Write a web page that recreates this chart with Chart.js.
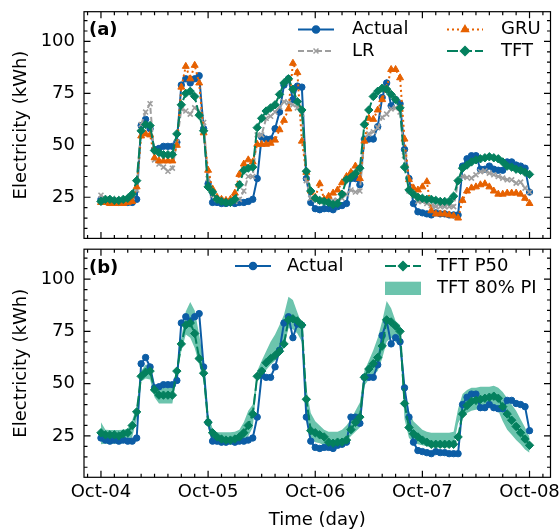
<!DOCTYPE html>
<html lang="en">
<head>
<meta charset="utf-8">
<title>Electricity forecasts</title>
<script src="https://cdnjs.cloudflare.com/ajax/libs/Chart.js/4.4.1/chart.umd.min.js"></script>
<style>
  body { margin: 0; background: #fff; }
  #wrap { position: relative; width: 560px; height: 532px; }
  canvas { position: absolute; left: 0; }
  #top { top: 0; }
  #bottom { top: 244px; }
</style>
</head>
<body>
<div id="wrap">
  <canvas id="top" width="560" height="244"></canvas>
  <canvas id="bottom" width="560" height="288"></canvas>
</div>
<script>
// hourly values, Oct-04 00:00 to Oct-08 00:00 (97 points)
const actual = [24, 23, 22.5, 23, 22.5, 23, 22.5, 22.5, 24,
  59.5, 62.5, 58, 48, 48.5, 49.5, 49.5, 49.5, 51.5,
  79, 82, 80, 82, 83.5, 58, 31.5,
  22.5, 22.5, 22, 22, 22.5, 22, 22.5, 22.5, 23,
  24, 34, 54, 53, 53, 58, 66, 79, 82, 72, 78.5, 78,
  34, 22.5, 19.5, 19, 19.5, 19.5, 19, 20.5, 21, 22,
  34, 34, 31, 53, 53, 53, 59, 73, 80, 69, 72, 70,
  48, 34, 22, 18, 17.5, 17, 16.5, 17.5, 17, 17, 16.5, 16.5, 16.5,
  40, 43.5, 45, 45, 38.5, 38.5, 40, 38.5, 38, 38, 42, 42, 40.5, 40, 39, 27.5];

const lr = [26, 24, 23.5, 23.5, 23, 23, 24, 25, 28.5,
  60, 66, 70, 43, 41, 39.5, 37.5, 39, 51.5,
  67.5, 66.5, 65, 68, 66.5, 61, 34,
  26, 24, 23.5, 23, 23, 23, 24, 28, 35,
  35, 55, 55, 63, 64, 66, 68.5, 71, 70.5, 69.5, 68, 65,
  33, 24.5, 24, 23, 23.5, 23.5, 23.5, 23.5, 24.5, 26.5,
  28.5, 27.5, 28, 53, 55.5, 56.5, 58.5, 63.5, 65, 67.5, 68, 66,
  45, 28, 26, 23, 23, 22, 21, 20.5, 20.5, 20.5, 20.5, 20.5, 32.5,
  35, 34.5, 34.2, 35.8, 37.3, 37.7, 36.6, 35.8, 35, 34.2, 33.4, 33.4, 31.8, 32.3, 29.4, 27.5];

const gru = [22.5, 22.5, 22, 22, 22, 22, 22.5, 23, 30,
  54.5, 55.5, 55, 44, 42.5, 42.5, 42.5, 42.5, 50,
  78, 88, 82, 88.5, 80, 56, 38,
  29, 25, 24, 23.5, 24, 27, 36, 41, 43,
  42, 50.5, 50.5, 50.5, 51, 52.5, 57.5, 62, 67.5, 89.5, 85, 52,
  37, 28, 25, 31.5, 24, 25.5, 27, 28.5, 32, 35,
  37, 40, 34, 52, 63, 62.5, 67, 72, 77.5, 86.5, 86.5, 82.5,
  53, 33.5, 29.5, 28.5, 30, 32.5, 18.5, 17, 17, 17, 16.5, 16, 15,
  23.5, 28, 29.5, 30, 31, 31.5, 30, 28, 26.5, 26.5, 27, 27, 27, 26.5, 24.5, 22];

const tft = [23, 24, 24, 23.5, 23.5, 24, 24.5, 26.5, 33,
  57, 60, 59.5, 47.5, 46.5, 45.5, 45.5, 45.5, 55.5,
  69.5, 75, 76, 73.5, 64.5, 57, 30,
  27.5, 24, 23, 22.5, 22.5, 24, 31, 38, 39,
  39.5, 58.5, 63, 66.5, 68, 69.5, 74.5, 80, 82, 77, 71, 67,
  37.5, 28, 24.5, 23.5, 23, 22.5, 21.5, 22, 26.5, 33.5,
  34.5, 36.5, 39, 60, 67, 73.5, 76, 77.5, 77, 74.5, 72, 68,
  39.5, 28.5, 26.5, 25, 24.5, 24, 24, 23.5, 23, 23, 23, 25.5, 33,
  39, 40.5, 42, 43, 43.5, 44, 44.5, 44, 43.5, 42, 40, 39.5, 38.5, 38, 37, 36];

const tftP50 = [26.5, 25.5, 25.5, 25.5, 25, 26, 26.5, 30, 36.5,
  53.5, 55.5, 56, 47, 44.5, 44.5, 44.5, 44.5, 56,
  69, 78, 79, 74, 62, 55, 31.5,
  26.5, 24.5, 23.5, 23, 23, 23.5, 24.5, 26.5, 30,
  35.5, 53.5, 56, 60, 62, 63.5, 65.5, 69, 80.5, 81, 80, 78,
  42.5, 27.5, 26.5, 25.5, 24.5, 22, 21.5, 22, 22, 23,
  28, 31.5, 34, 53, 57, 59.5, 62.5, 68, 80.5, 79.5, 77.5, 75,
  40.5, 29, 26, 24.5, 23, 22, 21, 21, 21, 21, 21, 21, 24.5,
  35.5, 39.5, 41.5, 42, 42.5, 43, 43.5, 44, 43, 39, 35.5, 32.5, 29.5, 26.5, 23.5, 20.5];

const tftHigh = [31.5, 28, 27.8, 27.8, 27.8, 28, 28.5, 32.5, 39,
  56, 59, 59, 49.5, 48, 48, 48, 48, 57.5,
  72, 84.5, 89, 85, 73.5, 61, 35.5,
  28.5, 26.7, 26.7, 26.7, 26.7, 27, 28, 31.5, 37,
  40, 56, 61, 65.5, 70, 73.5, 78, 83, 91.5, 90, 84, 78.5,
  48, 36, 32, 30, 28, 27, 27, 27, 28, 30,
  33, 37, 41, 56, 61, 66, 72, 80, 89.5, 86, 80, 78,
  48, 37, 32, 30, 28, 27, 26.5, 26.5, 26.5, 26.5, 26.5, 27, 38,
  45, 47, 48, 48, 48.5, 48.5, 48.5, 49, 48, 46, 43, 40, 37, 33, 29, 24.5];

const tftLow = [21, 21.2, 21.2, 21.2, 21.2, 21.5, 22, 24.5, 33,
  51, 52.5, 52, 43.5, 40.5, 40.5, 40.5, 40.5, 54,
  65.5, 73.5, 72, 67, 59, 51, 28.5,
  23, 21, 21, 21, 21, 21, 21.5, 22.5, 25,
  29, 51, 53, 56.5, 59, 61, 64, 67, 76.5, 76, 74, 70,
  35.5, 24, 22, 21.5, 20.5, 20, 20, 20, 20.5, 22.5,
  25, 27, 29, 49, 52, 54, 56, 62, 70, 72, 70, 68,
  33, 24, 22, 21, 20.5, 20, 19.5, 19.5, 19.5, 19.5, 19.5, 20.5, 31,
  35, 36, 37, 37.5, 38, 38, 38.5, 38.5, 37, 32, 28, 25.5, 23, 21, 18.5, 17];

const dayLabels = ['Oct-04', 'Oct-05', 'Oct-06', 'Oct-07', 'Oct-08'];
const yTicks = [25, 50, 75, 100];
const hours = actual.map((_, i) => i);

const C_ACT = '#0c5da5', C_LR = '#9e9e9e', C_GRU = '#e66100', C_TFT = '#04805e', C_PI = '#6cc4ad';

Chart.defaults.font.family = "'DejaVu Sans', sans-serif";
Chart.defaults.font.size = 18;
Chart.defaults.color = '#000';

const pts = arr => arr.map((v, i) => ({ x: hours[i], y: v }));

function series(label, data, color, extra) {
  return Object.assign({
    label: label, data: pts(data),
    borderColor: color, backgroundColor: color,
    pointBorderColor: color, pointBackgroundColor: color,
    borderWidth: 2, pointRadius: 3.2, pointBorderWidth: 1, tension: 0
  }, extra);
}

function yScale() {
  return {
    min: 5.2, max: 114.3,
    grid: { display: false, drawTicks: false },
    border: { display: false },
    afterBuildTicks: s => { s.ticks = yTicks.map(v => ({ value: v })); },
    afterFit: s => { s.width = 84; s.paddingTop = 0; s.paddingBottom = 0; },
    ticks: { padding: 9 },
    title: { display: true, text: 'Electricity (kWh)', padding: { top: 10.5, bottom: 0 } }
  };
}

// inward matplotlib-style ticks, frame, panel label and legend
function framePlugin(panel, legend) {
  return {
    id: 'frame' + panel,
    afterDraw(chart) {
      const { ctx, chartArea: a, scales: { x, y } } = chart;
      ctx.save();
      ctx.strokeStyle = '#000';
      ctx.lineWidth = 1.2;
      ctx.beginPath();
      for (let h = -3; h <= 100; h += 3) {
        const px = x.getPixelForValue(h);
        if (px <= a.left || px >= a.right) continue;
        const len = h % 24 === 0 ? 6.5 : 3.5;
        ctx.moveTo(px, a.bottom); ctx.lineTo(px, a.bottom - len);
        ctx.moveTo(px, a.top); ctx.lineTo(px, a.top + len);
      }
      for (let v = 10; v <= 110; v += 5) {
        const py = y.getPixelForValue(v);
        const len = v % 25 === 0 ? 6.5 : 3.5;
        ctx.moveTo(a.left, py); ctx.lineTo(a.left + len, py);
        ctx.moveTo(a.right, py); ctx.lineTo(a.right - len, py);
      }
      ctx.stroke();
      ctx.strokeRect(a.left, a.top, a.right - a.left, a.bottom - a.top);

      ctx.fillStyle = '#000';
      ctx.textBaseline = 'middle';
      ctx.textAlign = 'left';
      ctx.font = "bold 18px 'DejaVu Sans', sans-serif";
      ctx.fillText(panel, 89, a.top + 19);

      ctx.font = "18px 'DejaVu Sans', sans-serif";
      legend.forEach(e => {
        ctx.save();
        if (e.patch) {
          ctx.fillStyle = e.color;
          ctx.fillRect(e.x0, e.y - 6.6, e.x1 - e.x0, 13.3);
        } else {
          ctx.strokeStyle = e.color;
          ctx.fillStyle = e.color;
          ctx.lineWidth = 2;
          ctx.setLineDash(e.dash);
          ctx.beginPath(); ctx.moveTo(e.x0, e.y); ctx.lineTo(e.x1, e.y); ctx.stroke();
          ctx.setLineDash([]);
          ctx.lineWidth = 1.5;
          Chart.helpers.drawPoint(ctx, { pointStyle: e.marker, radius: e.r, rotation: 0, borderWidth: 1.5 }, (e.x0 + e.x1) / 2, e.y);
        }
        ctx.restore();
        ctx.fillText(e.text, e.tx, e.y);
      });
      ctx.restore();
    }
  };
}

new Chart(document.getElementById('top'), {
  type: 'line',
  data: {
    datasets: [
      series('Actual', actual, C_ACT, { order: 3, pointStyle: 'circle' }),
      series('LR', lr, C_LR, { order: 2, pointStyle: 'crossRot', pointRadius: 3.5, pointBorderWidth: 1.6, borderDash: [6, 3] }),
      series('GRU', gru, C_GRU, { order: 1, pointStyle: 'triangle', pointRadius: 4, borderDash: [2, 3] }),
      series('TFT', tft, C_TFT, { order: 0, pointStyle: 'rectRot', pointRadius: 4.2, borderDash: [11, 3] })
    ]
  },
  options: {
    responsive: false, animation: false, devicePixelRatio: 1,
    layout: { padding: { top: 11.7, right: 9.5, bottom: 3.3, left: 0 } },
    plugins: { legend: { display: false }, tooltip: { enabled: false } },
    scales: {
      x: { type: 'linear', min: -3.8, max: 100.7, display: false },
      y: yScale()
    }
  },
  plugins: [framePlugin('(a)', [
    { text: 'Actual', color: C_ACT, dash: [], marker: 'circle', r: 3.5, x0: 298, x1: 334, tx: 352, y: 29.5 },
    { text: 'LR', color: C_LR, dash: [6, 3], marker: 'crossRot', r: 3.5, x0: 298, x1: 334, tx: 352, y: 51 },
    { text: 'GRU', color: C_GRU, dash: [2, 3], marker: 'triangle', r: 4, x0: 447, x1: 483, tx: 501, y: 29.5 },
    { text: 'TFT', color: C_TFT, dash: [11, 3], marker: 'rectRot', r: 4.5, x0: 447, x1: 483, tx: 501, y: 51 }
  ])]
});

new Chart(document.getElementById('bottom'), {
  type: 'line',
  data: {
    datasets: [
      { label: 'TFT 80% PI upper', data: pts(tftHigh), borderWidth: 0, borderColor: 'rgba(0,0,0,0)', pointRadius: 0, fill: false, order: 5 },
      { label: 'TFT 80% PI', data: pts(tftLow), borderWidth: 0, borderColor: 'rgba(0,0,0,0)', pointRadius: 0, fill: '-1', backgroundColor: C_PI, order: 4 },
      series('Actual', actual, C_ACT, { order: 1, pointStyle: 'circle' }),
      series('TFT P50', tftP50, C_TFT, { order: 0, pointStyle: 'rectRot', pointRadius: 4.2, borderDash: [11, 3] })
    ]
  },
  options: {
    responsive: false, animation: false, devicePixelRatio: 1,
    layout: { padding: { top: 3.3, right: 9.5, bottom: 0, left: 0 } },
    plugins: { legend: { display: false }, tooltip: { enabled: false }, filler: { drawTime: 'beforeDatasetsDraw' } },
    scales: {
      x: {
        type: 'linear', min: -3.8, max: 100.7,
        grid: { display: false, drawTicks: false },
        border: { display: false },
        afterBuildTicks: s => { s.ticks = dayLabels.map((_, i) => ({ value: i * 24 })); },
        afterFit: s => { s.height = 54.7; s.paddingLeft = 0; s.paddingRight = 0; },
        ticks: { padding: 4, maxRotation: 0, autoSkip: false, callback: (v, i) => dayLabels[i] },
        title: { display: true, text: 'Time (day)', padding: { top: 0, bottom: 0.5 } }
      },
      y: yScale()
    }
  },
  plugins: [framePlugin('(b)', [
    { text: 'Actual', color: C_ACT, dash: [], marker: 'circle', r: 3.5, x0: 235, x1: 271, tx: 287, y: 22 },
    { text: 'TFT P50', color: C_TFT, dash: [11, 3], marker: 'rectRot', r: 4.5, x0: 385, x1: 421, tx: 437, y: 22 },
    { text: 'TFT 80% PI', color: C_PI, patch: true, x0: 385, x1: 421, tx: 437, y: 44.3 }
  ])]
});
</script>
</body>
</html>
